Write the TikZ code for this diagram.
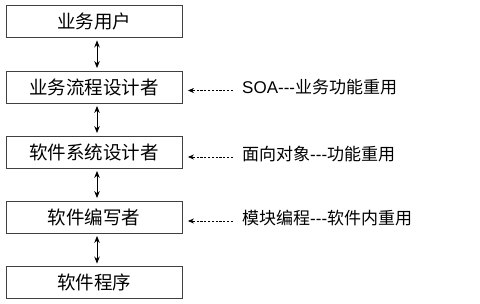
\documentclass[tikz,border=0pt]{standalone}
\usepackage{fontspec}
\usetikzlibrary{arrows.meta}
\newfontfamily\cjk{Noto Sans CJK SC}
\newfontfamily\lat{Liberation Sans}
\begin{document}
\begin{tikzpicture}[x=1pt,y=-1pt,
  box/.style={draw=black!75,line width=0.9pt,minimum width=176pt,minimum height=32pt,inner sep=0pt,
    font=\cjk\fontsize{18.5}{20}\selectfont},
  lab/.style={anchor=west,inner sep=0pt,font=\cjk\fontsize{17}{18}\selectfont},
  dbl/.style={line width=0.9pt,{Stealth[length=7pt,width=5.5pt]}-{Stealth[length=7pt,width=5.5pt]},shorten <=2.5pt,shorten >=2.5pt},
  dashline/.style={line width=0.7pt,dash pattern=on 2.2pt off 1.6pt,shorten <=9pt,shorten >=10pt},
  tipline/.style={line width=0.7pt,shorten <=48pt,shorten >=5.5pt,-{Stealth[length=6pt,width=5pt]}}]
\useasboundingbox (0,0) rectangle (480,304);
\fill[white] (0,0) rectangle (480,304);
\node[box] (b1) at (94,21.5) {业务用户};
\node[box] (b2) at (94,87) {业务流程设计者};
\node[box] (b3) at (94,152) {软件系统设计者};
\node[box] (b4) at (94,217) {软件编写者};
\node[box] (b5) at (94,282.5) {软件程序};
\draw[dbl] (b1.south -| 97,0) -- (b2.north -| 97,0);
\draw[dbl] (b2.south -| 97,0) -- (b3.north -| 97,0);
\draw[dbl] (b3.south -| 97,0) -- (b4.north -| 97,0);
\draw[dbl] (b4.south -| 97,0) -- (b5.north -| 97,0);
\node[lab] (l1) at (242,87.5) {{\lat SOA---}业务功能重用};
\node[lab] (l2) at (242,154) {面向对象{\lat ---}功能重用};
\node[lab] (l3) at (242,218) {模块编程{\lat ---}软件内重用};
\draw[dashline] ([yshift=-3pt]l1.west) -- ([yshift=-3pt]l1.west -| b2.east);
\draw[tipline] ([yshift=-3pt]l1.west) -- ([yshift=-3pt]l1.west -| b2.east);
\draw[dashline] ([yshift=-3pt]l2.west) -- ([yshift=-3pt]l2.west -| b3.east);
\draw[tipline] ([yshift=-3pt]l2.west) -- ([yshift=-3pt]l2.west -| b3.east);
\draw[dashline] ([yshift=-3pt]l3.west) -- ([yshift=-3pt]l3.west -| b4.east);
\draw[tipline] ([yshift=-3pt]l3.west) -- ([yshift=-3pt]l3.west -| b4.east);
\end{tikzpicture}
\end{document}
